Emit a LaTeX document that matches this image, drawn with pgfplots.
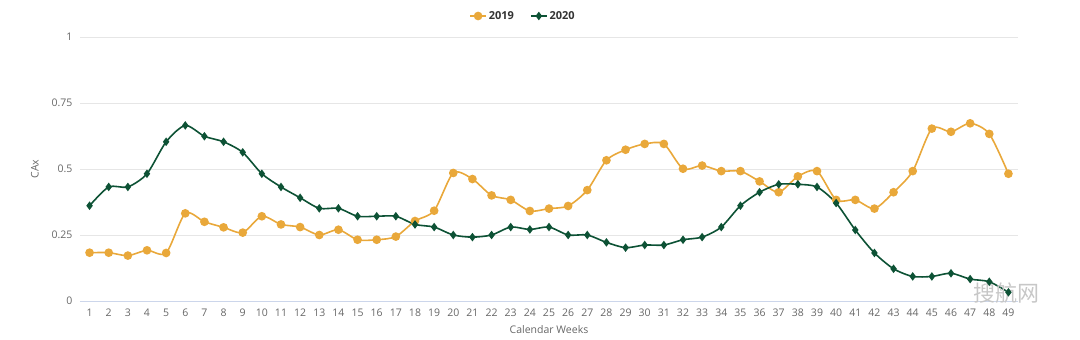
\documentclass[border=0pt]{standalone}
\usepackage{pgfplots}
\pgfplotsset{compat=1.18}
\usepackage{fontspec}
\setmainfont{Open Sans}
\newfontfamily\cjk{Noto Sans CJK SC}
\definecolor{c19}{HTML}{E9A83A}
\definecolor{c20}{HTML}{0D5235}
\definecolor{gridc}{HTML}{E6E6E6}
\definecolor{axc}{HTML}{CCD6EB}
\definecolor{tickc}{HTML}{666666}
\begin{document}
\begin{tikzpicture}[x=1pt,y=1pt]
\path[use as bounding box] (-80,-39) rectangle (1000,301);
\begin{axis}[
  at={(0,0)}, anchor=south west,
  scale only axis, width=938pt, height=264pt,
  xmin=0.5, xmax=49.5, ymin=0, ymax=1,
  axis x line*=bottom, axis y line*=left,
  x axis line style={draw=axc, line width=0.8pt, -},
  y axis line style={draw=none, -},
  xtick={1,...,49}, ytick={0,0.25,0.5,0.75,1},
  yticklabels={0,0.25,0.5,0.75,1},
  ymajorgrids, grid style={draw=gridc, line width=0.8pt},
  major tick length=0pt,
  /pgf/number format/assume math mode=true,
  tick label style={font=\fontsize{10.5}{12}\selectfont, text=tickc},
  xticklabel style={yshift=-4pt},
  yticklabel style={xshift=-4pt},
  xlabel={Calendar Weeks}, ylabel={CAx},
  label style={font=\fontsize{10.5}{12}\selectfont, text=tickc},
  xlabel style={at={(axis description cs:0.5,0)}, anchor=center, yshift=-29pt},
  ylabel style={at={(axis description cs:-0.048,0.5)}, anchor=center},
  legend columns=2,
  legend style={at={(rel axis cs:0.4723,1)}, anchor=center, yshift=21pt,
    draw=none, fill=none, font=\fontsize{11}{13}\selectfont\bfseries, text=black!80,
    /tikz/every even column/.append style={column sep=14pt}},
  legend image code/.code={\draw[mark repeat=2,mark phase=2] plot coordinates {(0pt,0pt) (8pt,0pt) (16pt,0pt)};},
  clip=false,
]
\addplot[c19, line width=1.6pt, smooth, tension=0.45, mark=*, mark size=3.5pt, mark options={fill=c19, draw=c19}] coordinates {
(1,0.183)(2,0.183)(3,0.172)(4,0.192)(5,0.182)(6,0.332)(7,0.300)(8,0.279)(9,0.259)(10,0.321)
(11,0.290)(12,0.280)(13,0.250)(14,0.270)(15,0.232)(16,0.232)(17,0.244)(18,0.303)(19,0.342)(20,0.485)
(21,0.462)(22,0.400)(23,0.383)(24,0.341)(25,0.350)(26,0.360)(27,0.420)(28,0.533)(29,0.573)(30,0.595)
(31,0.595)(32,0.501)(33,0.513)(34,0.492)(35,0.492)(36,0.453)(37,0.412)(38,0.472)(39,0.492)(40,0.383)
(41,0.383)(42,0.350)(43,0.412)(44,0.492)(45,0.653)(46,0.641)(47,0.673)(48,0.633)(49,0.482)};
\addlegendentry{2019}
\addplot[c20, line width=1.6pt, smooth, tension=0.45, mark=diamond*, mark size=3pt, mark options={fill=c20, draw=c20}] coordinates {
(1,0.361)(2,0.432)(3,0.432)(4,0.482)(5,0.603)(6,0.665)(7,0.624)(8,0.603)(9,0.563)(10,0.482)
(11,0.432)(12,0.391)(13,0.351)(14,0.351)(15,0.321)(16,0.321)(17,0.321)(18,0.290)(19,0.280)(20,0.250)
(21,0.242)(22,0.250)(23,0.280)(24,0.271)(25,0.280)(26,0.250)(27,0.250)(28,0.222)(29,0.202)(30,0.212)
(31,0.212)(32,0.232)(33,0.242)(34,0.280)(35,0.361)(36,0.412)(37,0.442)(38,0.442)(39,0.432)(40,0.371)
(41,0.269)(42,0.182)(43,0.122)(44,0.093)(45,0.093)(46,0.105)(47,0.083)(48,0.073)(49,0.033)};
\addlegendentry{2020}
\node[text=black!22, font=\cjk\fontsize{22}{24}\selectfont, anchor=center] at (rel axis cs:0.988,0.03) {搜航网};
\end{axis}
\end{tikzpicture}
\end{document}
